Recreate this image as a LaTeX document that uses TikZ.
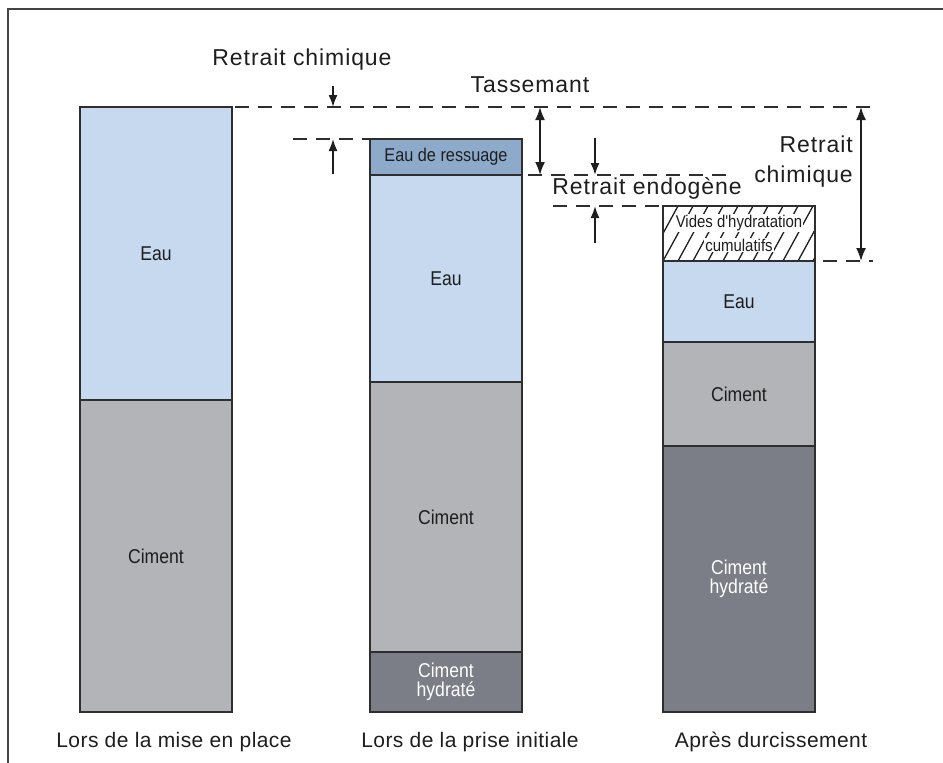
\documentclass[tikz,border=0pt]{standalone}
\usepackage{fontspec}
\setmainfont{Liberation Sans}
\newfontfamily\lblfont{Liberation Sans}[LetterSpace=4]
\newfontfamily\capfont{Liberation Sans}[LetterSpace=2]
\newfontfamily\barfont{Liberation Sans}[FakeStretch=0.88]
\usetikzlibrary{arrows.meta}
\definecolor{eau}{HTML}{C6D9EF}
\definecolor{ress}{HTML}{8DAACB}
\definecolor{cim}{HTML}{B3B4B8}
\definecolor{hyd}{HTML}{7B7E86}
\definecolor{ink}{HTML}{1E1E1E}
\definecolor{edge}{HTML}{2E2E2E}
\definecolor{frame}{HTML}{444444}
\begin{document}
\begin{tikzpicture}[x=1pt,y=-1pt,
 seg/.style={draw=edge,line width=2.6pt,minimum width=152pt,inner sep=0pt,outer sep=0pt,
   font=\barfont\fontsize{20}{22}\selectfont,text=ink,align=center},
 guide/.style={draw=edge,line width=1.8pt,dash pattern=on 14pt off 9pt},
 dimone/.style={draw=ink,line width=1.8pt,-{Latex[length=12pt,width=9pt]}},
 dimboth/.style={draw=ink,line width=1.8pt,{Latex[length=13pt,width=10pt]}-{Latex[length=13pt,width=10pt]}},
 lbl/.style={font=\lblfont\fontsize{23}{30}\selectfont,text=ink,inner sep=0pt},
 captxt/.style={font=\capfont\fontsize{21}{24}\selectfont,text=ink,inner sep=0pt},
 smalltxt/.style={font=\barfont\fontsize{17}{19}\selectfont,text=ink,fill=white,inner sep=1pt},
]
\useasboundingbox (0,0) rectangle (943,763);
\fill[white] (0,0) rectangle (943,763);
\draw[line width=2.8pt,draw=frame] (943,9) -- (8,9) -- (8,763);

% Bar 1
\node[seg,fill=eau,minimum height=293pt] (b1eau) at (156,253.5) {Eau};
\node[seg,fill=cim,minimum height=312pt] (b1cim) at (156,556) {Ciment};

% Bar 2
\node[seg,fill=ress,minimum height=36pt,font=\barfont\fontsize{18.5}{20}\selectfont] (b2res) at (446,157) {Eau de ressuage};
\node[seg,fill=eau,minimum height=207pt] (b2eau) at (446,278.5) {Eau};
\node[seg,fill=cim,minimum height=270pt] (b2cim) at (446,517) {Ciment};
\node[seg,fill=hyd,minimum height=60pt,text=white] (b2hyd) at (446,682) {Ciment\\[-3pt]hydraté};

% Bar 3
\begin{scope}
\clip (663,206) rectangle (815,261);
\foreach \i in {0,...,12}
  \draw[ink,line width=1.3pt] (633+\i*15,261) -- ++(30,-55);
\end{scope}
\node[smalltxt] (v1) at (739,223) {Vides d'hydratation};
\node[smalltxt] (v2) at (739,245) {cumulatifs};
\node[seg,minimum height=55pt] (b3vid) at (739,233.5) {};
\node[seg,fill=eau,minimum height=81pt] (b3eau) at (739,301.5) {Eau};
\node[seg,fill=cim,minimum height=104pt] (b3cim) at (739,394) {Ciment};
\node[seg,fill=hyd,minimum height=266pt,text=white] (b3hyd) at (739,579) {Ciment\\[-3pt]hydraté};

% Guide lines
\coordinate (t1) at (235,107);
\coordinate (t2) at (873,107);
\coordinate (r1) at (293,139);
\coordinate (s1) at (528,175);
\coordinate (s2) at (730,175);
\coordinate (e1) at (553,206);
\coordinate (c1) at (823,261);
\coordinate (c2) at (873,261);
\draw[guide] (t1) -- (t2);
\draw[guide] (r1) -- (b2res.north west);
\draw[guide] (s1) -- (s2);
\draw[guide] (e1) -- (b3vid.north west);
\draw[guide] (c1) -- (c2);

% Arrows
\coordinate (a1s) at (333,86);
\coordinate (a1e) at (333,107);
\coordinate (a2s) at (333,174);
\coordinate (a2e) at (333,139);
\coordinate (a3s) at (540,107);
\coordinate (a3e) at (540,175);
\coordinate (a4s) at (595,138);
\coordinate (a4e) at (595,175);
\coordinate (a5s) at (595,243);
\coordinate (a5e) at (595,206);
\coordinate (a6s) at (861,107);
\coordinate (a6e) at (861,261);
\draw[dimone] (a1s) -- (a1e);
\draw[dimone] (a2s) -- (a2e);
\draw[dimboth] (a3s) -- (a3e);
\draw[dimone] (a4s) -- (a4e);
\draw[dimone] (a5s) -- (a5e);
\draw[dimboth] (a6s) -- (a6e);

% Labels
\node[lbl] (rc1) at (302,60) {Retrait chimique};
\node[lbl] (tas) at (530,85) {Tassemant};
\node[lbl] (ren) at (647,188) {Retrait endogène};
\node[lbl,align=right,anchor=east] (rc2) at (853,162) {Retrait\\chimique};

\node[captxt] (l1) at (174,742) {Lors de la mise en place};
\node[captxt] (l2) at (470,742) {Lors de la prise initiale};
\node[captxt] (l3) at (771,742) {Après durcissement};
\end{tikzpicture}
\end{document}
